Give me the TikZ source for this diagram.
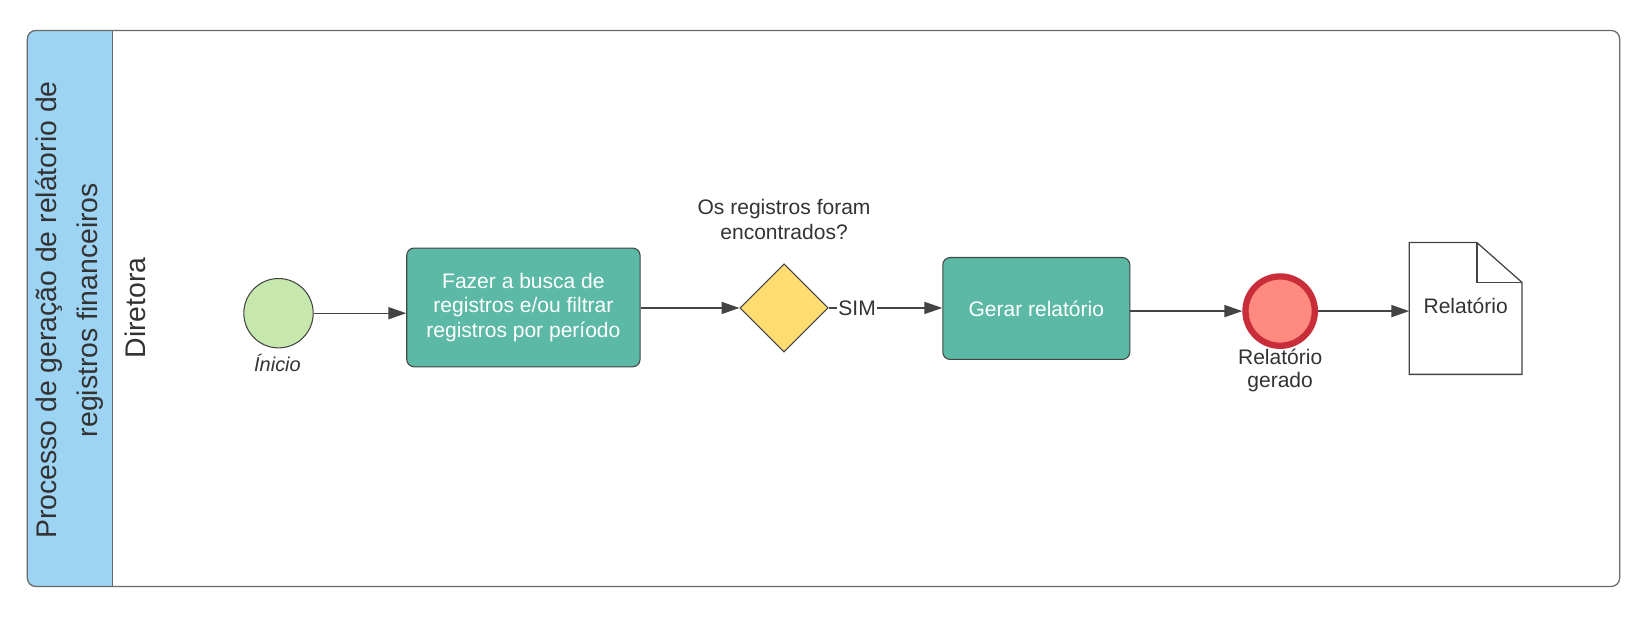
\documentclass[tikz,border=0pt]{standalone}
\usepackage{fontspec}
\setmainfont{Liberation Sans}
\usetikzlibrary{shapes.geometric,arrows.meta,calc}
\definecolor{laneblue}{HTML}{9DD3F3}
\definecolor{startgreen}{HTML}{C7E8AC}
\definecolor{taskteal}{HTML}{5CB9A5}
\definecolor{gateyellow}{HTML}{FFDD71}
\definecolor{endfill}{HTML}{FF8B80}
\definecolor{endred}{HTML}{C92D39}
\definecolor{ink}{HTML}{333333}
\definecolor{edge}{HTML}{444444}
\begin{document}
\begin{tikzpicture}[x=1pt,y=-1pt,
  txt/.style={font=\fontsize{20}{24}\selectfont, text=ink, align=center, inner sep=0pt},
  task/.style={draw=edge, line width=1pt, fill=taskteal, rounded corners=7pt,
    text=white, align=center, font=\fontsize{20}{23.5}\selectfont},
  flow/.style={draw=edge, line width=1.3pt, -{Triangle[length=17pt,width=11.5pt]}},
]
\useasboundingbox (0,0) rectangle (1568,588);
% pool
\begin{scope}
\clip[rounded corners=8pt] (26,29) rectangle (1541,558);
\fill[laneblue] (26,29) rectangle (107,558);
\end{scope}
\node[draw=edge!80, line width=1.2pt, rounded corners=8pt, minimum width=1515pt, minimum height=529pt, inner sep=0pt] (pool) at (783.5,293.5) {};
\draw[edge!80, line width=1.5pt] (107,29) -- (107,558);
\node[txt, rotate=90, font=\fontsize{27}{39}\selectfont] (title) at (66,295) {Processo de geração de relátorio de\\registros financeiros};
\node[txt, rotate=90, font=\fontsize{27}{32}\selectfont] (lane) at (129,293) {Diretora};

% nodes
\node[circle, draw=edge, line width=1pt, fill=startgreen, minimum size=66pt, inner sep=0pt] (start) at (265,298) {};
\node[txt, font=\fontsize{19}{22}\selectfont\itshape, anchor=north] (startlbl) at (264,337) {Ínicio};
\node[task, minimum width=222pt, minimum height=113pt] (t1) at (498,292.5) {Fazer a busca de\\registros e/ou filtrar\\registros por período};
\node[diamond, draw=edge, line width=1pt, fill=gateyellow, minimum width=84pt, minimum height=84pt, inner sep=0pt, aspect=1] (gw) at (746,293) {};
\node[txt] (gwlbl) at (746,209) {Os registros foram\\encontrados?};
\node[task, minimum width=178pt, minimum height=97pt] (t2) at (986,293.5) {Gerar relatório};
\node[circle, draw=endred, line width=6pt, fill=endfill, minimum size=66pt, inner sep=0pt] (end) at (1218,296) {};
\node[txt, anchor=north, font=\fontsize{20}{22.6}\selectfont] (endlbl) at (1218,331.5) {Relatório\\gerado};
\node[minimum width=107pt, minimum height=125pt, inner sep=0pt] (doc) at (1394.5,293.5) {};
\draw[edge, line width=1.2pt, fill=white] (doc.north west) -- ([xshift=-43pt]doc.north east) -- ([yshift=-38pt]doc.north east) -- (doc.south east) -- (doc.south west) -- cycle;
\draw[edge, line width=1.2pt] ([xshift=-43pt]doc.north east) |- ([yshift=-38pt]doc.north east);
\node[txt] (doclbl) at (1394.5,291) {Relatório};

% flows
\draw[flow] (start) -- (start -| t1.west);
\draw[flow] (t1.east |- gw) -- (gw.west);
\draw[flow] (gw.east) -- node[txt, pos=0.25, fill=white, inner xsep=1pt, inner ysep=2pt] (sim) {SIM} (t2.west |- gw);
\draw[flow] (t2.east |- end) -- (end.west);
\draw[flow] (end.east) -- (doc.west |- end);
\end{tikzpicture}
\end{document}
